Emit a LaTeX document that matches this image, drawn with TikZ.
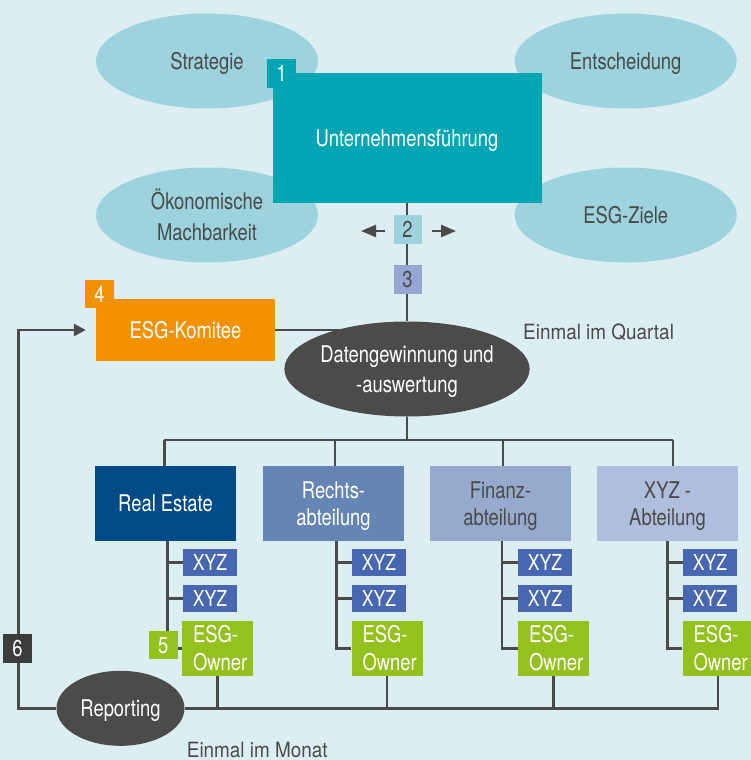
\documentclass[tikz,border=0pt]{standalone}
\usepackage{fontspec}
\setmainfont[FakeStretch=0.8]{TeX Gyre Heros}
\newfontfamily\annfont[FakeStretch=0.9]{TeX Gyre Heros}
\usetikzlibrary{shapes.geometric,arrows.meta}
\pgfdeclarelayer{bg}\pgfsetlayers{bg,main}
\definecolor{bgc}{HTML}{DCEEF2}
\definecolor{ellc}{HTML}{9CD3DC}
\definecolor{tealc}{HTML}{00A6B4}
\definecolor{orc}{HTML}{F39200}
\definecolor{dkc}{HTML}{4B4B4A}
\definecolor{txtc}{HTML}{4A4A49}
\definecolor{lnc}{HTML}{4A4A4A}
\definecolor{rec}{HTML}{004B87}
\definecolor{rac}{HTML}{6585B5}
\definecolor{fac}{HTML}{96AACE}
\definecolor{xac}{HTML}{AFBEDC}
\definecolor{xyzc}{HTML}{4767B0}
\definecolor{grc}{HTML}{95C11F}
\definecolor{b3c}{HTML}{94A6D1}
\definecolor{b6c}{HTML}{3C3C3B}
\hyphenpenalty=10000
\newcommand{\topstrut}{\rule{0pt}{21.4pt}}
\tikzset{
  every node/.style={inner sep=0pt, font=\fontsize{23}{30}\selectfont},
  one/.style={text height=16.5pt, text depth=0pt},
  ln/.style={draw=lnc, line width=2.5pt},
  arr/.style={ln, -{Triangle[length=12pt,width=12pt]}},
  sarr/.style={ln, -{Triangle[length=15pt,width=12pt]}},
  ell/.style={ellipse, fill=ellc, minimum width=222pt, minimum height=95pt, text=txtc, align=center},
  badge/.style={rectangle, minimum width=29pt, minimum height=29pt, one, text=white},
  dept/.style={rectangle, minimum width=141pt, minimum height=75pt, align=center, font=\fontsize{23}{27}\selectfont},
  xyzbox/.style={rectangle, fill=xyzc, minimum width=54pt, minimum height=26.5pt, text=white, one, font=\fontsize{22}{27}\selectfont},
  esgbox/.style={rectangle, fill=grc, minimum width=71pt, minimum height=55pt, text=white, align=left, text width=49pt, font=\fontsize{23}{28}\selectfont},
  ann/.style={anchor=base west, text=txtc, font=\annfont\fontsize{21}{26}\selectfont}
}
\begin{document}
\begin{tikzpicture}[x=1pt,y=-1pt]
\useasboundingbox (0,0) rectangle (751,760);
\clip (0,0) rectangle (751,760);
\begin{pgfonlayer}{bg}
\fill[bgc] (0,0) rectangle (751,760);
\end{pgfonlayer}

% top ellipses
\node[ell, one] (strat) at (207,61) {Strategie};
\node[ell, one] (ents) at (625.7,61) {Entscheidung};
\node[ell, font=\fontsize{23}{31}\selectfont] (oek) at (207,215) {Ökonomische\\Machbarkeit};
\node[ell, one] (esgz) at (625.7,215) {ESG-Ziele};

% management
\node[rectangle, fill=tealc, minimum width=269pt, minimum height=130pt, text=white, one] (ufu) at (407,138) {Unternehmensführung};
\node[badge, fill=tealc] (b1) at (281.5,73.5) {1};
\node[badge, fill=ellc, text=txtc, minimum width=28pt] (b2) at (407.5,229.5) {2};
\node[badge, fill=b3c, text=txtc, minimum width=28pt] (b3) at (407.5,279.5) {3};

% committee
\node[rectangle, fill=orc, minimum width=179pt, minimum height=62pt, text=white, one] (kom) at (185.5,330) {ESG-Komitee};
\node[badge, fill=orc, minimum height=28pt] (b4) at (99.5,294) {4};

\node[ellipse, fill=dkc, minimum width=225pt, minimum height=95pt, text=white, align=center] (dg) at (407,369) {\topstrut Datengewinnung und\\-auswertung};
\node[ann] (q) at (523,339.3) {Einmal im Quartal};

% departments
\node[dept, fill=rec, text=white, one] (re) at (165.5,503.5) {Real Estate};
\node[dept, fill=rac, text=white] (ra) at (333.5,503.5) {\topstrut Rechts-\\abteilung};
\node[dept, fill=fac, text=txtc] (fa) at (500.5,503.5) {\topstrut Finanz-\\abteilung};
\node[dept, fill=xac, text=txtc] (xa) at (667.5,503.5) {\topstrut XYZ -\\Abteilung};

\node[xyzbox] (x1a) at (210,562.5) {XYZ};
\node[xyzbox] (x1b) at (210,598.3) {XYZ};
\node[xyzbox] (x2a) at (379,562.5) {XYZ};
\node[xyzbox] (x2b) at (379,598.3) {XYZ};
\node[xyzbox] (x3a) at (545,562.5) {XYZ};
\node[xyzbox] (x3b) at (545,598.3) {XYZ};
\node[xyzbox] (x4a) at (710,562.5) {XYZ};
\node[xyzbox] (x4b) at (710,598.3) {XYZ};

\node[esgbox] (e1) at (217.5,648.3) {ESG-\\Owner};
\node[esgbox] (e2) at (387,648.3) {ESG-\\Owner};
\node[esgbox] (e3) at (553.5,648.3) {ESG-\\Owner};
\node[esgbox] (e4) at (718,648.3) {ESG-\\Owner};

\node[badge, fill=grc, minimum height=28pt] (b5) at (163.3,645.2) {5};

\node[ellipse, fill=dkc, minimum width=128pt, minimum height=75pt, text=white, one] (rep) at (120.5,708.3) {Reporting};
\node[badge, fill=b6c] (b6) at (17.5,648.3) {6};
\node[ann] (m) at (186.7,757) {Einmal im Monat};

% connectors
\coordinate (la1) at (385,231);
\coordinate (la2) at (361,231);
\coordinate (ra1) at (432,231);
\coordinate (ra2) at (456,231);
\coordinate (fbtop) at (18.3,330);
\coordinate (bus1) at (164.3,440);
\coordinate (bus2) at (335.2,440);
\coordinate (bus3) at (503,440);
\coordinate (bus4) at (673,440);
\coordinate (sp1) at (167.3,541);
\coordinate (sp2) at (336.7,541);
\coordinate (sp3) at (502,541);
\coordinate (sp4) at (667.3,541);

\begin{pgfonlayer}{bg}
\draw[ln] (ufu.south) -- (dg.north);
\draw[sarr] (la1) -- (la2);
\draw[sarr] (ra1) -- (ra2);
\draw[ln] (kom.east) -- (kom.east -| dg.north);
\draw[ln] (dg.south) -- (dg.south |- bus1);
\draw[ln] (bus1) -- (bus4);
\draw[ln] (bus1) -- (bus1 |- re.north);
\draw[ln] (bus2) -- (bus2 |- ra.north);
\draw[ln] (bus3) -- (bus3 |- fa.north);
\draw[ln] (bus4) -- (bus4 |- xa.north);
\draw[ln] (sp1) |- (e1.west);
\draw[ln] (sp2) |- (e2.west);
\draw[ln] (sp3) |- (e3.west);
\draw[ln] (sp4) |- (e4.west);
\draw[ln] (x1a.west) -- (x1a.west -| sp1);
\draw[ln] (x1b.west) -- (x1b.west -| sp1);
\draw[ln] (x2a.west) -- (x2a.west -| sp2);
\draw[ln] (x2b.west) -- (x2b.west -| sp2);
\draw[ln] (x3a.west) -- (x3a.west -| sp3);
\draw[ln] (x3b.west) -- (x3b.west -| sp3);
\draw[ln] (x4a.west) -- (x4a.west -| sp4);
\draw[ln] (x4b.west) -- (x4b.west -| sp4);
\draw[ln] (e4.south) |- (rep.east);
\draw[ln] (e1.south) -- (e1.south |- rep.east);
\draw[ln] (e2.south) -- (e2.south |- rep.east);
\draw[ln] (e3.south) -- (e3.south |- rep.east);
\draw[arr, shorten >=10pt] (rep.west) -| (fbtop) -- (kom.west);
\end{pgfonlayer}
\end{tikzpicture}
\end{document}
